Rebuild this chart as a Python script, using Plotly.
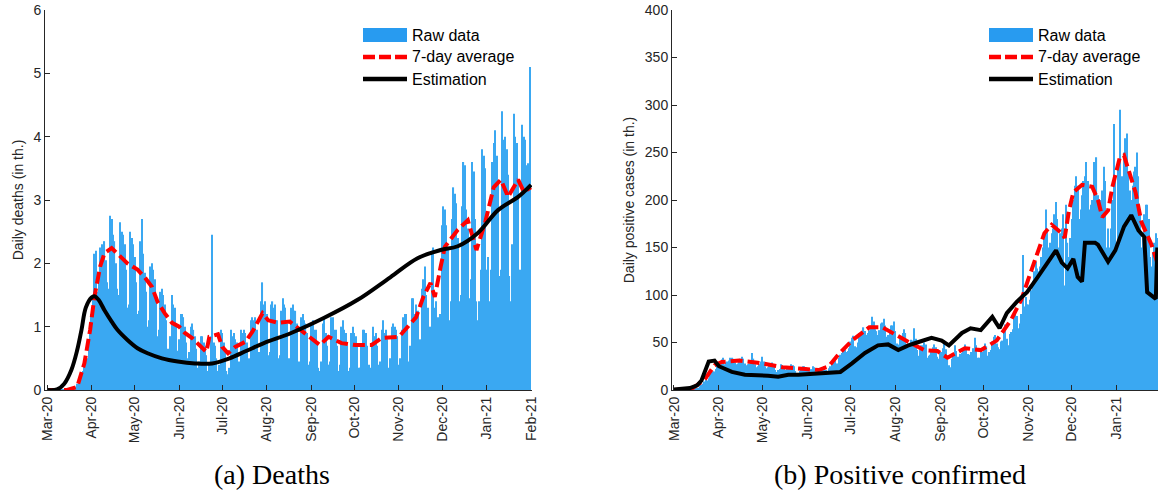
import pandas as pd
import plotly.graph_objects as go

# ---------------- data ----------------
# Daily deaths in thousands, 2020-03-01 .. 2021-01-31 (one row per week, Sun..Sat)
deaths_raw = [
    0.000, 0.001, 0.001, 0.002, 0.002, 0.003, 0.002,
    0.004, 0.004, 0.006, 0.008, 0.010, 0.012, 0.014,
    0.01, 0.02, 0.03, 0.035, 0.04, 0.05, 0.05,
    0.10, 0.13, 0.20, 0.25, 0.30, 0.38, 0.40,
    0.50, 0.65, 1.00, 1.20, 1.50, 2.15, 2.20,
    1.55, 1.85, 2.25, 2.30, 2.20, 2.35, 2.05,
    1.70, 1.60, 2.75, 2.70, 2.45, 2.35, 2.00,
    1.60, 1.50, 2.65, 2.50, 2.45, 2.30, 1.90,
    1.30, 1.35, 2.50, 2.40, 2.30, 2.10, 1.70,
    1.20, 1.25, 2.35, 2.70, 2.15, 1.85, 1.55,
    1.00, 1.10, 1.95, 2.00, 1.90, 1.75, 1.40,
    0.85, 0.95, 1.55, 1.60, 1.50, 1.35, 1.10,
    0.65, 0.60, 0.85, 1.50, 1.35, 1.30, 1.05,
    0.62, 0.80, 1.20, 1.20, 1.15, 1.00, 0.75,
    0.50, 0.60, 1.00, 1.05, 0.95, 0.85, 0.65,
    0.35, 0.45, 0.85, 0.85, 0.75, 0.70, 0.55,
    0.30, 0.40, 0.85, 2.45, 0.75, 0.70, 0.50,
    0.30, 0.40, 0.95, 0.90, 0.75, 0.65, 0.30,
    0.25, 0.35, 0.95, 0.85, 0.90, 0.80, 0.75,
    0.40, 0.45, 0.95, 0.90, 0.95, 0.90, 0.75,
    0.45, 0.50, 1.10, 1.15, 1.10, 1.15, 0.95,
    0.60, 0.60, 1.40, 1.70, 1.35, 1.40, 1.20,
    0.55, 0.60, 1.35, 1.40, 1.30, 1.35, 1.10,
    0.50, 0.55, 1.25, 1.45, 1.35, 1.30, 1.05,
    0.50, 0.50, 1.30, 1.35, 1.25, 1.25, 1.05,
    0.45, 0.45, 1.15, 1.20, 1.10, 1.05, 0.90,
    0.40, 0.45, 1.05, 1.10, 0.95, 0.95, 0.75,
    0.35, 0.30, 0.45, 1.05, 1.15, 0.90, 0.70,
    0.40, 0.45, 1.15, 1.15, 0.95, 0.95, 0.70,
    0.30, 0.40, 1.00, 1.10, 0.95, 0.90, 0.70,
    0.30, 0.35, 0.90, 1.00, 0.90, 0.85, 0.70,
    0.35, 0.35, 0.70, 0.95, 0.95, 0.90, 0.70,
    0.40, 0.35, 0.75, 1.00, 0.85, 0.90, 0.70,
    0.40, 0.45, 0.95, 1.10, 0.90, 0.95, 0.80,
    0.35, 0.50, 1.00, 1.05, 1.00, 0.95, 0.85,
    0.40, 0.50, 0.95, 1.15, 1.20, 1.20, 1.00,
    0.45, 0.70, 1.45, 1.45, 1.20, 1.35, 1.25,
    0.60, 0.80, 1.60, 1.75, 1.95, 1.50, 1.30,
    0.90, 1.00, 2.20, 2.25, 1.30, 1.40, 1.15,
    0.85, 1.20, 2.60, 2.90, 2.85, 2.60, 2.25,
    1.10, 1.40, 2.70, 3.20, 3.10, 2.95, 2.40,
    1.40, 1.50, 2.90, 3.60, 3.55, 2.85, 2.55,
    1.45, 1.75, 3.60, 3.45, 2.70, 1.40, 1.10,
    1.40, 1.90, 3.80, 3.70, 3.50, 1.90, 2.10,
    1.40, 1.90, 3.60, 3.90, 4.10, 3.70, 3.30,
    1.80, 1.90, 4.40, 3.95, 4.00, 3.80, 3.40,
    1.80, 1.40, 2.30, 4.36, 4.00, 3.90, 3.30,
    1.90, 1.90, 4.19, 4.00, 3.95, 3.55, 3.58,
    5.10,
]

deaths_avg_pts = [
    ("2020-03-01", 0.0), ("2020-03-15", 0.0), ("2020-03-22", 0.05), ("2020-03-27", 0.42),
    ("2020-03-31", 0.95), ("2020-04-03", 1.47), ("2020-04-07", 1.95), ("2020-04-10", 2.16),
    ("2020-04-15", 2.24), ("2020-04-19", 2.16), ("2020-04-26", 2.0), ("2020-05-03", 1.9),
    ("2020-05-08", 1.78), ("2020-05-13", 1.63), ("2020-05-17", 1.39), ("2020-05-22", 1.21),
    ("2020-05-27", 1.06), ("2020-06-01", 1.0), ("2020-06-05", 0.9), ("2020-06-10", 0.82),
    ("2020-06-15", 0.71), ("2020-06-20", 0.6), ("2020-06-22", 0.84), ("2020-06-28", 0.88),
    ("2020-07-01", 0.68), ("2020-07-05", 0.58), ("2020-07-10", 0.68), ("2020-07-17", 0.76),
    ("2020-07-22", 0.92), ("2020-07-29", 1.21), ("2020-08-02", 1.1), ("2020-08-09", 1.06),
    ("2020-08-17", 1.08), ("2020-08-30", 0.84), ("2020-09-07", 0.71), ("2020-09-13", 0.84),
    ("2020-09-22", 0.74), ("2020-10-02", 0.71), ("2020-10-13", 0.71), ("2020-10-20", 0.82),
    ("2020-11-01", 0.84), ("2020-11-13", 1.15), ("2020-11-18", 1.47), ("2020-11-23", 1.69),
    ("2020-11-26", 1.47), ("2020-11-30", 1.94), ("2020-12-03", 2.26), ("2020-12-12", 2.53),
    ("2020-12-19", 2.68), ("2020-12-25", 2.21), ("2020-12-31", 2.64), ("2021-01-06", 3.2),
    ("2021-01-11", 3.32), ("2021-01-16", 3.05), ("2021-01-23", 3.32), ("2021-01-27", 3.13),
    ("2021-02-01", 3.2),
]

deaths_est_pts = [
    ("2020-03-01", 0.0), ("2020-03-08", 0.01), ("2020-03-13", 0.1), ("2020-03-18", 0.32),
    ("2020-03-22", 0.63), ("2020-03-25", 0.95), ("2020-03-28", 1.3), ("2020-04-01", 1.46),
    ("2020-04-03", 1.48), ("2020-04-06", 1.42), ("2020-04-10", 1.26), ("2020-04-15", 1.08),
    ("2020-04-19", 0.95), ("2020-04-26", 0.79), ("2020-05-03", 0.66), ("2020-05-10", 0.58),
    ("2020-05-20", 0.5), ("2020-05-31", 0.45), ("2020-06-12", 0.42), ("2020-06-24", 0.42),
    ("2020-07-06", 0.5), ("2020-07-18", 0.62), ("2020-07-30", 0.74), ("2020-08-18", 0.9),
    ("2020-09-10", 1.14), ("2020-10-03", 1.42), ("2020-10-26", 1.78), ("2020-11-14", 2.08),
    ("2020-11-30", 2.21), ("2020-12-12", 2.27), ("2020-12-26", 2.48), ("2021-01-09", 2.84),
    ("2021-01-23", 3.05), ("2021-02-01", 3.24),
]

# Daily positive cases in thousands, 2020-03-01 .. 2021-01-29 (one row per week, Sun..Sat)
cases_raw = [
    0.00, 0.01, 0.01, 0.01, 0.02, 0.03, 0.05,
    0.06, 0.12, 0.15, 0.26, 0.40, 0.60, 0.70,
    0.8, 1.2, 1.8, 2.5, 4.0, 5.5, 6.5,
    9.0, 10.5, 10.0, 12.5, 17.5, 19.0, 19.5,
    19.5, 22, 25, 27, 29, 32, 34,
    27, 29, 30, 31, 34, 34, 33,
    29, 27, 28, 30, 33, 35, 33,
    28, 26, 27, 28, 31, 39, 33,
    27, 24, 25, 27, 30, 35, 30,
    25, 23, 24, 26, 28, 29, 27,
    21, 19, 21, 22, 27, 26, 25,
    21, 22, 22, 23, 27, 26, 25,
    20, 18, 18, 20, 23, 25, 25,
    20, 21, 21, 20, 22, 25, 24,
    18, 17, 19, 21, 22, 24, 25,
    21, 18, 23, 25, 28, 31, 32,
    27, 28, 34, 37, 39, 44, 43,
    40, 41, 44, 51, 55, 57, 46,
    45, 50, 60, 61, 60, 66, 62,
    58, 60, 63, 68, 77, 72, 64,
    62, 58, 63, 70, 71, 75, 68,
    56, 58, 60, 68, 68, 72, 62,
    49, 48, 54, 56, 60, 64, 60,
    47, 45, 49, 53, 52, 65, 54,
    42, 36, 43, 47, 47, 50, 48,
    34, 36, 37, 43, 45, 48, 45,
    35, 33, 40, 40, 44, 52, 43,
    32, 26, 24, 33, 36, 47, 41,
    35, 34, 38, 39, 44, 48, 42,
    38, 37, 40, 39, 44, 55, 47,
    34, 34, 43, 40, 45, 49, 46,
    36, 40, 42, 51, 56, 58, 49,
    45, 43, 51, 52, 63, 69, 54,
    47, 59, 61, 64, 75, 82, 78,
    65, 70, 80, 142, 88, 98, 90,
    90, 95, 105, 115, 125, 135, 128,
    125, 130, 140, 150, 165, 190, 170,
    150, 155, 165, 170, 185, 198, 180,
    150, 165, 170, 185, 110, 195, 155,
    140, 160, 180, 200, 215, 225, 215,
    180, 190, 205, 220, 225, 240, 220,
    190, 195, 200, 240, 235, 245, 205,
    195, 200, 210, 235, 220, 150, 170,
    150, 170, 200, 280, 220, 150, 240,
    295, 200, 225, 250, 265, 270, 230,
    210, 200, 215, 230, 235, 250, 225,
    190, 150, 160, 185, 195, 195, 180,
    140, 130, 145, 155, 165, 160,
]

cases_avg_pts = [
    ("2020-03-01", 0.0), ("2020-03-13", 1), ("2020-03-22", 10.5), ("2020-03-29", 26),
    ("2020-04-03", 29.5), ("2020-04-15", 31), ("2020-05-01", 28), ("2020-05-15", 24),
    ("2020-05-31", 22), ("2020-06-09", 21), ("2020-06-16", 25), ("2020-06-23", 38),
    ("2020-07-02", 52), ("2020-07-14", 66), ("2020-07-23", 66), ("2020-08-03", 56),
    ("2020-08-12", 49), ("2020-08-21", 42), ("2020-08-30", 41), ("2020-09-06", 34),
    ("2020-09-18", 44), ("2020-09-29", 42), ("2020-10-10", 52), ("2020-10-20", 74),
    ("2020-10-27", 95), ("2020-11-03", 126), ("2020-11-12", 165), ("2020-11-17", 174),
    ("2020-11-24", 165), ("2020-11-26", 160), ("2020-11-29", 189), ("2020-12-02", 208),
    ("2020-12-08", 216), ("2020-12-15", 214), ("2020-12-19", 200), ("2020-12-22", 182),
    ("2020-12-26", 189), ("2020-12-29", 214), ("2021-01-03", 244), ("2021-01-06", 247),
    ("2021-01-14", 208), ("2021-01-18", 177), ("2021-01-25", 153), ("2021-01-29", 134),
]

cases_est_pts = [
    ("2020-03-01", 0.5), ("2020-03-12", 2), ("2020-03-17", 5), ("2020-03-20", 10),
    ("2020-03-25", 30), ("2020-03-29", 31), ("2020-04-01", 25), ("2020-04-10", 19),
    ("2020-04-19", 16), ("2020-04-29", 16), ("2020-05-05", 15), ("2020-05-12", 14),
    ("2020-05-19", 16), ("2020-05-26", 16), ("2020-06-05", 17), ("2020-06-15", 18),
    ("2020-06-24", 19), ("2020-07-02", 28), ("2020-07-11", 39), ("2020-07-20", 47),
    ("2020-07-27", 48), ("2020-08-03", 42), ("2020-08-10", 47), ("2020-08-16", 50),
    ("2020-08-26", 55), ("2020-09-02", 52), ("2020-09-07", 47), ("2020-09-16", 60),
    ("2020-09-22", 65), ("2020-09-29", 63), ("2020-10-07", 77), ("2020-10-12", 65),
    ("2020-10-17", 81), ("2020-10-24", 93), ("2020-10-31", 103), ("2020-11-07", 118),
    ("2020-11-14", 134), ("2020-11-20", 147), ("2020-11-24", 134), ("2020-11-28", 128),
    ("2020-12-02", 138), ("2020-12-05", 119), ("2020-12-08", 114), ("2020-12-10", 155),
    ("2020-12-17", 155), ("2020-12-19", 153), ("2020-12-26", 135), ("2020-12-31", 147),
    ("2021-01-06", 172), ("2021-01-11", 184), ("2021-01-16", 168), ("2021-01-20", 161),
    ("2021-01-22", 103), ("2021-01-28", 96), ("2021-01-29", 150),
]

legend_labels = ["Raw data", "7-day average", "Estimation"]
captions = ["(a) Deaths", "(b) Positive confirmed"]
y_titles = ["Daily deaths (in th.)", "Daily positive cases (in th.)"]
deaths_ticks = [0, 1, 2, 3, 4, 5, 6]
cases_ticks = [0, 50, 100, 150, 200, 250, 300, 350, 400]
deaths_months = pd.date_range("2020-03-01", "2021-02-01", freq="MS")
cases_months = pd.date_range("2020-03-01", "2021-01-01", freq="MS")

# ---------------- styling ----------------
W, H = 1161, 491
BAR = "rgb(58,168,242)"
LEG_PATCH = "rgb(40,155,240)"
SANS = "Liberation Sans, Arial, sans-serif"
SERIF = "Liberation Serif, Times New Roman, serif"
AXC = "#262626"


def px(x):
    return x / W


def py(y):
    return 1 - y / H


death_days = pd.date_range("2020-03-01", periods=len(deaths_raw), freq="D")
case_days = pd.date_range("2020-03-01", periods=len(cases_raw), freq="D")

fig = go.Figure()


def add_panel(days, raw, avg_pts, est_pts, xa, ya, est_shape):
    fig.add_trace(go.Bar(x=days, y=raw, marker=dict(color=BAR, line=dict(width=0)),
                         showlegend=False, xaxis=xa, yaxis=ya, name=legend_labels[0]))
    fig.add_trace(go.Scatter(x=[d for d, _ in avg_pts], y=[v for _, v in avg_pts],
                             mode="lines", line=dict(color="#ff0000", width=4, dash="12px,5px"),
                             showlegend=False, xaxis=xa, yaxis=ya, name=legend_labels[1]))
    fig.add_trace(go.Scatter(x=[d for d, _ in est_pts], y=[v for _, v in est_pts],
                             mode="lines", line=dict(color="black", width=4, shape=est_shape),
                             showlegend=False, xaxis=xa, yaxis=ya, name=legend_labels[2]))


add_panel(death_days, deaths_raw, deaths_avg_pts, deaths_est_pts, "x", "y", "spline")
add_panel(case_days, cases_raw, cases_avg_pts, cases_est_pts, "x2", "y2", "linear")

common_x = dict(type="date", tickformat="%b-%y", tickangle=-90, ticks="inside", ticklen=5,
                tickcolor=AXC, showline=True, linecolor=AXC, linewidth=1, showgrid=False,
                zeroline=False, tickfont=dict(family=SANS, size=14, color=AXC),
                automargin=False)
common_y = dict(ticks="inside", ticklen=5, tickcolor=AXC, showline=True, linecolor=AXC,
                linewidth=1, showgrid=False, zeroline=False, automargin=False,
                tickfont=dict(family=SANS, size=14, color=AXC))

fig.update_layout(
    width=W, height=H, margin=dict(l=0, r=0, t=0, b=0, autoexpand=False),
    paper_bgcolor="white", plot_bgcolor="white", bargap=0.2, showlegend=False,
    xaxis=dict(common_x, domain=[px(45), px(532)], anchor="y",
               range=["2020-02-28 14:00", "2021-02-01 16:00"], tickvals=deaths_months),
    yaxis=dict(common_y, domain=[py(390), py(10)], anchor="x", range=[0, 6],
               tickvals=deaths_ticks,
               title=dict(text=y_titles[0], font=dict(family=SANS, size=14, color=AXC), standoff=6)),
    xaxis2=dict(common_x, domain=[px(672), px(1158)], anchor="y2",
                range=["2020-02-28 15:00", "2021-01-29 12:00"], tickvals=cases_months),
    yaxis2=dict(common_y, domain=[py(390), py(10)], anchor="x2", range=[0, 400],
                tickvals=cases_ticks,
                title=dict(text=y_titles[1], font=dict(family=SANS, size=14, color=AXC), standoff=6)),
)

# captions
for cx, txt in [(272, captions[0]), (900, captions[1])]:
    fig.add_annotation(x=px(cx), y=py(474), xref="paper", yref="paper", text=txt,
                       showarrow=False, xanchor="center", yanchor="middle",
                       font=dict(family=SERIF, size=28, color="black"))

# legends (drawn like the MATLAB legend: wide patch / line samples, no box)
for gx in (363, 989):
    fig.add_shape(type="rect", xref="paper", yref="paper", x0=px(gx), x1=px(gx + 44),
                  y0=py(42), y1=py(28), fillcolor=LEG_PATCH, line=dict(width=0), layer="above")
    fig.add_shape(type="line", xref="paper", yref="paper", x0=px(gx), x1=px(gx + 44),
                  y0=py(57), y1=py(57), line=dict(color="#ff0000", width=4.5, dash="12px,4px"),
                  layer="above")
    fig.add_shape(type="line", xref="paper", yref="paper", x0=px(gx), x1=px(gx + 44),
                  y0=py(79), y1=py(79), line=dict(color="black", width=4.5), layer="above")
    for i, yy in enumerate((35, 57, 79)):
        fig.add_annotation(x=px(gx + 47), y=py(yy), xref="paper", yref="paper",
                           text=legend_labels[i], showarrow=False, xanchor="left",
                           yanchor="middle", font=dict(family=SANS, size=16, color="black"))

fig.write_html("out.html")
